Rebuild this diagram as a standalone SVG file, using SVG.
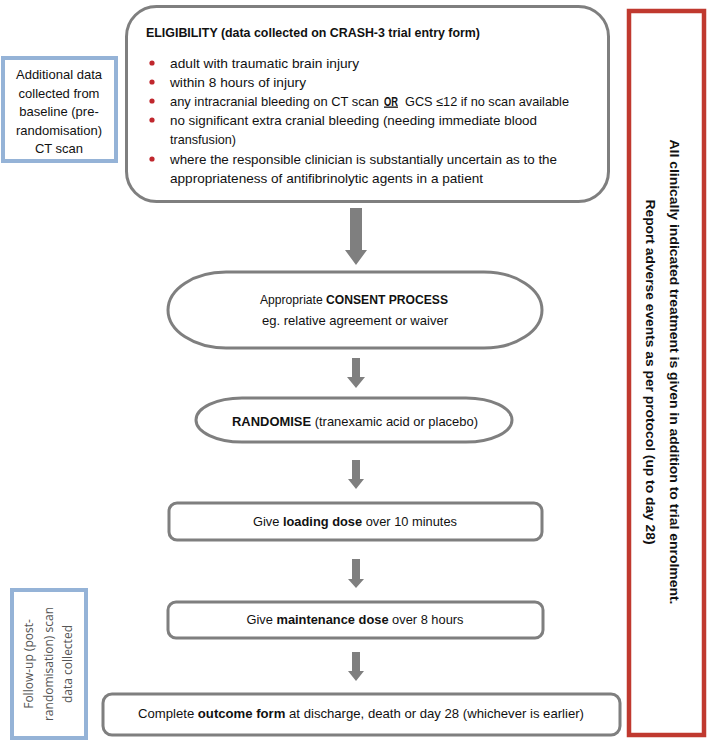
<svg xmlns="http://www.w3.org/2000/svg" width="714" height="741" viewBox="0 0 714 741">
<style>
.node{fill:#fff;stroke:#7f7f7f;stroke-width:3}
.blue{fill:#fff;stroke:#95b3d7;stroke-width:4}
.red{fill:#fff;stroke:#c0392f;stroke-width:4.5}
.t{font-family:"Liberation Sans",Arial,sans-serif;font-size:13px;fill:#111}
.c{text-anchor:middle}
.b{font-weight:bold}
.side{font-family:"Open Sans","Liberation Sans",sans-serif;font-size:12px;fill:#555;text-anchor:middle}
.dot{fill:#c0272d}
.arrow{fill:#7f7f7f}
</style>
<rect width="714" height="741" fill="#fff"/>

<g id="additional-data">
<rect class="blue" x="3" y="58" width="113" height="103"/>
<text class="t c" x="59" y="79">Additional data</text>
<text class="t c" x="59" y="98">collected from</text>
<text class="t c" x="59" y="116">baseline (pre-</text>
<text class="t c" x="59" y="135">randomisation)</text>
<text class="t c" x="59" y="153">CT scan</text>
</g>

<g id="eligibility">
<rect class="node" x="126.5" y="6.5" width="482" height="195" rx="30" ry="30"/>
<text class="t b" x="146" y="36.5" textLength="334" lengthAdjust="spacingAndGlyphs">ELIGIBILITY (data collected on CRASH-3 trial entry form)</text>
<circle class="dot" cx="152" cy="63" r="2.6"/>
<circle class="dot" cx="152" cy="82" r="2.6"/>
<circle class="dot" cx="152" cy="101" r="2.6"/>
<circle class="dot" cx="152" cy="120" r="2.6"/>
<circle class="dot" cx="152" cy="159" r="2.6"/>
<text class="t" x="170" y="67.5" textLength="189" lengthAdjust="spacingAndGlyphs">adult with traumatic brain injury</text>
<text class="t" x="170" y="86.5" textLength="136" lengthAdjust="spacingAndGlyphs">within 8 hours of injury</text>
<text class="t" x="170" y="105.5" textLength="209" lengthAdjust="spacingAndGlyphs">any intracranial bleeding on CT scan</text>
<text class="t b" x="384" y="105.5" textLength="14" lengthAdjust="spacingAndGlyphs" text-decoration="underline">OR</text>
<text class="t" x="405" y="105.5" textLength="164" lengthAdjust="spacingAndGlyphs">GCS ≤12 if no scan available</text>
<text class="t" x="170" y="124.5" textLength="367" lengthAdjust="spacingAndGlyphs">no significant extra cranial bleeding (needing immediate blood</text>
<text class="t" x="170" y="144" textLength="66" lengthAdjust="spacingAndGlyphs">transfusion)</text>
<text class="t" x="170" y="163.5" textLength="387" lengthAdjust="spacingAndGlyphs">where the responsible clinician is substantially uncertain as to the</text>
<text class="t" x="170" y="182.5" textLength="313" lengthAdjust="spacingAndGlyphs">appropriateness of antifibrinolytic agents in a patient</text>
</g>

<g id="consent">
<rect class="node" x="168" y="272" width="374" height="76" rx="58" ry="38"/>
<text class="t c" x="354" y="303.5" textLength="188" lengthAdjust="spacingAndGlyphs">Appropriate <tspan class="b">CONSENT PROCESS</tspan></text>
<text class="t c" x="355" y="325" textLength="186" lengthAdjust="spacingAndGlyphs">eg. relative agreement or waiver</text>
</g>

<g id="randomise">
<rect class="node" x="196" y="398" width="316" height="44" rx="46" ry="22"/>
<text class="t c" x="355" y="425.5" textLength="246" lengthAdjust="spacingAndGlyphs"><tspan class="b">RANDOMISE</tspan> (tranexamic acid or placebo)</text>
</g>

<g id="loading-dose">
<rect class="node" x="169" y="503" width="373" height="37" rx="8" ry="8"/>
<text class="t c" x="355" y="525.5" textLength="204" lengthAdjust="spacingAndGlyphs">Give <tspan class="b">loading dose</tspan> over 10 minutes</text>
</g>

<g id="maintenance-dose">
<rect class="node" x="168" y="602" width="375" height="36" rx="8" ry="8"/>
<text class="t c" x="355" y="623.5" textLength="217" lengthAdjust="spacingAndGlyphs">Give <tspan class="b">maintenance dose</tspan> over 8 hours</text>
</g>

<g id="outcome">
<rect class="node" x="103" y="694" width="517" height="41" rx="9" ry="9"/>
<text class="t c" x="361" y="717.5" textLength="446" lengthAdjust="spacingAndGlyphs">Complete <tspan class="b">outcome form</tspan> at discharge, death or day 28 (whichever is earlier)</text>
</g>

<g id="follow-up">
<rect class="blue" x="12" y="590" width="74" height="148"/>
<text class="side" transform="translate(33,664) rotate(-90)">Follow-up (post-</text>
<text class="side" transform="translate(53,664) rotate(-90)">randomisation) scan</text>
<text class="side" transform="translate(72,664) rotate(-90)">data collected</text>
</g>

<g id="treatment-note">
<rect class="red" x="629" y="11" width="75" height="724"/>
<text class="t c b" transform="translate(670,372) rotate(90)" textLength="465" lengthAdjust="spacingAndGlyphs">All clinically indicated treatment is given in addition to trial enrolment.</text>
<text class="t c b" transform="translate(646,372) rotate(90)" textLength="345" lengthAdjust="spacingAndGlyphs">Report adverse events as per protocol (up to day 28)</text>
</g>

<g id="connectors">
<polygon class="arrow" points="350,208 362,208 362,250 367,250 356,265 345,250 350,250"/>
<polygon class="arrow" points="352,358 360,358 360,377 365,377 356,388 347,377 352,377"/>
<polygon class="arrow" points="352,460 360,460 360,479 364,479 356,489 348,479 352,479"/>
<polygon class="arrow" points="352,559 360,559 360,579 364,579 356,588 348,579 352,579"/>
<polygon class="arrow" points="352,652 360,652 360,671 364,671 356,681 348,671 352,671"/>
</g>
</svg>
